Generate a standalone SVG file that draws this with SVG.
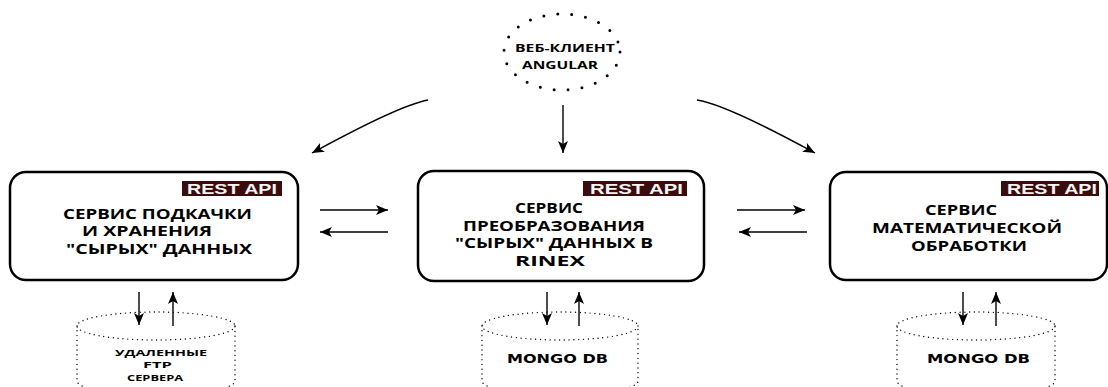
<svg xmlns="http://www.w3.org/2000/svg" width="1108" height="387" viewBox="0 0 1108 387">
<defs>
<marker id="ah" viewBox="0 0 12 10" refX="12" refY="5" markerWidth="12" markerHeight="10" markerUnits="userSpaceOnUse" orient="auto">
<path d="M0,0 L12,5 L0,10 L3,5 z" fill="#000"/>
</marker>
<style>
.box{fill:#fff;stroke:#000;stroke-width:2.5}
.rest{fill:#3a0c0c}
.restt{font-family:"Liberation Sans",Arial,sans-serif;font-weight:bold;font-size:14px;fill:#f4f4f4}
.t{font-family:"Open Sans","Noto Sans",sans-serif;font-weight:bold;font-size:14px;fill:#000}
.ts{font-family:"Open Sans","Noto Sans",sans-serif;font-weight:bold;font-size:11px;fill:#000}
.td{font-family:"Open Sans","Noto Sans",sans-serif;font-weight:bold;font-size:9.5px;fill:#000}
.tm{font-family:"DejaVu Sans",Verdana,sans-serif;font-weight:bold;font-size:13px;fill:#000}
.dot{fill:none;stroke:#000;stroke-width:3;stroke-linecap:round;stroke-dasharray:0 14}
.cyl{fill:none;stroke:#000;stroke-width:1.4;stroke-linecap:round;stroke-dasharray:0 4.8}
.c{fill:none;stroke:#000;stroke-width:1.4;marker-end:url(#ah)}
</style>
</defs>
<rect width="1108" height="387" fill="#fff"/>

<g id="web-client">
<ellipse class="dot" cx="562" cy="52" rx="58" ry="38"/>
<text class="ts" transform="translate(515,52) scale(1.3,1)" textLength="76.9" lengthAdjust="spacingAndGlyphs">ВЕБ-КЛИЕНТ</text>
<text class="ts" transform="translate(522,69) scale(1.3,1)" textLength="58.5" lengthAdjust="spacingAndGlyphs">ANGULAR</text>
</g>

<g id="svc-download">
<rect class="box" x="10" y="172" width="288" height="108" rx="16"/>
<rect class="rest" x="182" y="181" width="100" height="15"/>
<text class="restt" transform="translate(187,193.5) scale(1.3,1)" textLength="69.2" lengthAdjust="spacingAndGlyphs">REST API</text>
<text class="t" transform="translate(63,219) scale(1.3,1)" textLength="145.4" lengthAdjust="spacingAndGlyphs">СЕРВИС ПОДКАЧКИ</text>
<text class="t" transform="translate(82,236) scale(1.3,1)" textLength="100" lengthAdjust="spacingAndGlyphs">И ХРАНЕНИЯ</text>
<text class="t" transform="translate(66,254) scale(1.3,1)" textLength="143.1" lengthAdjust="spacingAndGlyphs">"СЫРЫХ" ДАННЫХ</text>
</g>

<g id="svc-convert">
<rect class="box" x="418" y="171" width="286" height="110" rx="16"/>
<rect class="rest" x="583" y="181" width="104" height="15"/>
<text class="restt" transform="translate(590,193.5) scale(1.3,1)" textLength="71.5" lengthAdjust="spacingAndGlyphs">REST API</text>
<text class="t" transform="translate(515,213) scale(1.3,1)" textLength="52.3" lengthAdjust="spacingAndGlyphs">СЕРВИС</text>
<text class="t" transform="translate(463,231) scale(1.3,1)" textLength="140" lengthAdjust="spacingAndGlyphs">ПРЕОБРАЗОВАНИЯ</text>
<text class="t" transform="translate(455,248) scale(1.3,1)" textLength="152.3" lengthAdjust="spacingAndGlyphs">"СЫРЫХ" ДАННЫХ В</text>
<text class="t" transform="translate(515,266) scale(1.3,1)" textLength="53.8" lengthAdjust="spacingAndGlyphs">RINEX</text>
</g>

<g id="svc-math">
<rect class="box" x="830" y="172" width="277" height="108" rx="16"/>
<rect class="rest" x="1001" y="181" width="98" height="15"/>
<text class="restt" transform="translate(1007,193.5) scale(1.3,1)" textLength="69.2" lengthAdjust="spacingAndGlyphs">REST API</text>
<text class="t" transform="translate(925,215) scale(1.3,1)" textLength="55.4" lengthAdjust="spacingAndGlyphs">СЕРВИС</text>
<text class="t" transform="translate(872,233) scale(1.3,1)" textLength="146.2" lengthAdjust="spacingAndGlyphs">МАТЕМАТИЧЕСКОЙ</text>
<text class="t" transform="translate(911,251) scale(1.3,1)" textLength="89.2" lengthAdjust="spacingAndGlyphs">ОБРАБОТКИ</text>
</g>

<g id="db-ftp">
<ellipse class="cyl" cx="156" cy="326" rx="79" ry="14"/>
<path class="cyl" d="M77,326 V381 A79,14 0 0 0 235,381 V326"/>
<text class="td" transform="translate(115,356) scale(1.3,1)" textLength="70.8" lengthAdjust="spacingAndGlyphs">УДАЛЕННЫЕ</text>
<text class="td" transform="translate(143,368) scale(1.3,1)" textLength="22.3" lengthAdjust="spacingAndGlyphs">FTP</text>
<text class="td" transform="translate(127,381) scale(1.3,1)" textLength="43.1" lengthAdjust="spacingAndGlyphs">СЕРВЕРА</text>
</g>

<g id="db-mongo-1">
<ellipse class="cyl" cx="560" cy="326" rx="78" ry="14"/>
<path class="cyl" d="M482,326 V381 A78,14 0 0 0 638,381 V326"/>
<text class="tm" transform="translate(507,363) scale(1.25,1)" textLength="80.8" lengthAdjust="spacingAndGlyphs">MONGO DB</text>
</g>

<g id="db-mongo-2">
<ellipse class="cyl" cx="976" cy="326" rx="79" ry="14"/>
<path class="cyl" d="M897,326 V381 A79,14 0 0 0 1055,381 V326"/>
<text class="tm" transform="translate(927,363) scale(1.25,1)" textLength="82.4" lengthAdjust="spacingAndGlyphs">MONGO DB</text>
</g>

<g id="connectors">
<path class="c" d="M428,100 Q400,105 312,153"/>
<path class="c" d="M563,105 V153"/>
<path class="c" d="M697,100 Q725,104 815,153"/>
<path class="c" d="M320,210 H388"/>
<path class="c" d="M388,232 H320"/>
<path class="c" d="M737,210 H805"/>
<path class="c" d="M807,232 H739"/>
<path class="c" d="M139,292 V325"/>
<path class="c" d="M173,326 V292"/>
<path class="c" d="M547,292 V325"/>
<path class="c" d="M579,326 V292"/>
<path class="c" d="M963,292 V325"/>
<path class="c" d="M996,326 V292"/>
</g>
</svg>
